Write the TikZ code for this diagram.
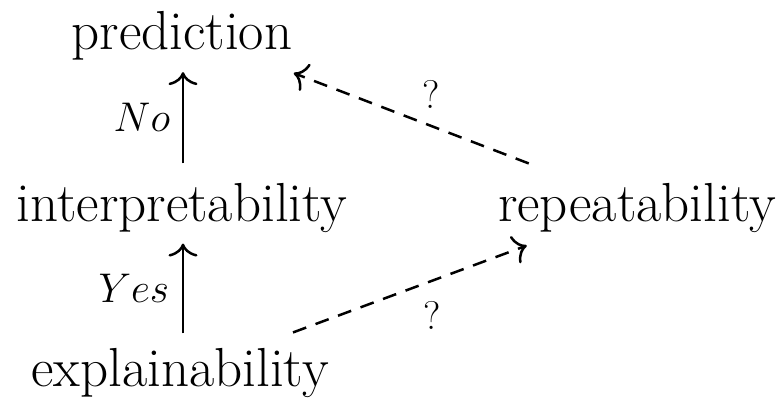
\documentclass[tikz,border=0pt]{standalone}
\usetikzlibrary{calc,arrows.meta}
\begin{document}
\begin{tikzpicture}[x=0.5pt,y=-0.5pt,
  main/.style={font=\fontsize{27.5}{33}\selectfont, anchor=base, inner sep=0pt},
  lab/.style={font=\fontsize{20}{24}\selectfont},
  tip/.style={-{Computer Modern Rightarrow[width=14.5pt,length=6.5pt]}},
  solidarrow/.style={line width=1.25pt,tip},
  dasharrow/.style={line width=1.25pt,tip,dash pattern=on 7pt off 5pt}]
\path[use as bounding box] (0,0) rectangle (778,398);
\node[main] (pred) at (182,49) {prediction};
\node[main] (interp) at (182,221) {interpretability};
\node[main] (expl) at (180,386) {explainability};
\node[main] (rep) at (637,221) {repeatability};
\draw[solidarrow] ($(interp.north)+(1,-19)$) -- node[lab,left,xshift=-2.5pt] {$No$} ($(pred.south)+(1,12)$);
\draw[solidarrow] ($(expl.north)+(3,-14)$) -- node[lab,left,xshift=-3pt] {$Yes$} ($(interp.south)+(1,11)$);
\draw[dasharrow] ($(rep.north west)+(31,-19)$) -- node[lab,xshift=10pt,yshift=12pt] {?} ($(pred.south east)+(1,13)$);
\draw[dasharrow] ($(expl.north east)+(-36,-15)$) -- node[lab,xshift=11pt,yshift=-13pt] {?} ($(rep.south west)+(29,13)$);
\end{tikzpicture}
\end{document}
